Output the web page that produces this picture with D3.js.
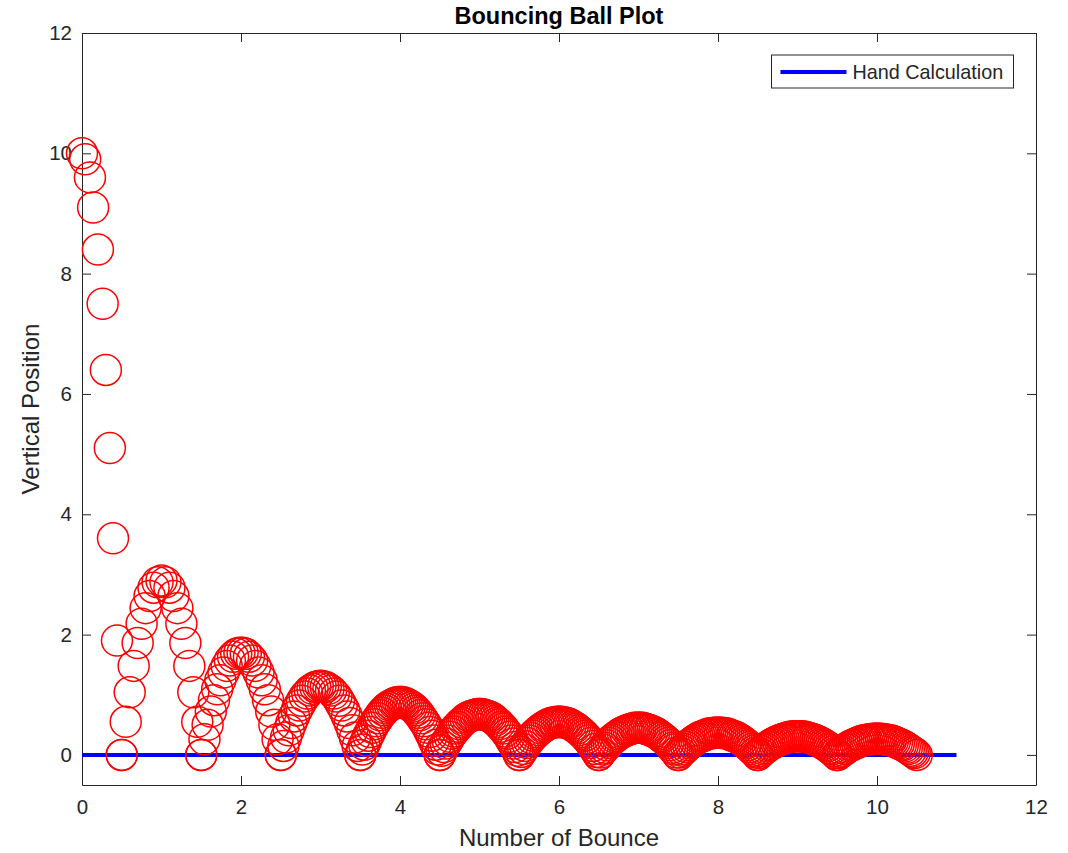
<!DOCTYPE html>
<html>
<head>
  <meta charset="utf-8">
  <title>Bouncing Ball Plot</title>
  <script src="https://d3js.org/d3.v7.min.js"></script>
  <style>
    body { margin: 0; background: #fff; }
    text { font-family: "Liberation Sans", Arial, sans-serif; }
  </style>
</head>
<body>
<div id="chart"></div>
<script type="text/javascript">
  // valores
  const xTicks = [0, 2, 4, 6, 8, 10, 12];
  const yTicks = [0, 2, 4, 6, 8, 10, 12];

  // primeira queda (de 10 ate o chao)
  const dropX = [0, 0.04, 0.1, 0.14, 0.2, 0.26, 0.3, 0.35, 0.39, 0.44, 0.5];
  const dropY = [10, 9.9, 9.6, 9.1, 8.4, 7.5, 6.4, 5.1, 3.6, 1.9, 0];

  // cada quique vai de n-0.5 ate n+0.5
  const bounceStart = [0.5, 1.5, 2.5, 3.5, 4.5, 5.5, 6.5, 7.5, 8.5, 9.5];
  const bounceEnd   = [1.5, 2.5, 3.5, 4.5, 5.5, 6.5, 7.5, 8.5, 9.5, 10.5];

  const bounce1 = [0, .55, 1.04, 1.48, 1.86, 2.18, 2.44, 2.64, 2.78, 2.87, 2.9,
                   2.87, 2.78, 2.64, 2.44, 2.18, 1.86, 1.48, 1.04, .55, 0];
  const bounce2 = [0, .26, .50, .72, .91, 1.09, 1.24, 1.37, 1.48, 1.57, 1.63, 1.68, 1.70,
                   1.70, 1.68, 1.63, 1.57, 1.48, 1.37, 1.24, 1.09, .91, .72, .50, .26, 0];
  const bounce3 = [0, .15, .29, .41, .53, .64, .74, .82, .90, .97, 1.02, 1.07, 1.10, 1.13, 1.14, 1.15,
                   1.14, 1.13, 1.10, 1.07, 1.02, .97, .90, .82, .74, .64, .53, .41, .29, .15, 0];
  const bounce4 = [0, .09, .17, .24, .32, .38, .45, .51, .56, .61, .66, .70, .74, .77, .80, .82, .84, .86, .87, .88, .88,
                   .88, .87, .86, .84, .82, .80, .77, .74, .70, .66, .61, .56, .51, .45, .38, .32, .24, .17, .09, 0];
  const bounce5 = [0, .07, .13, .19, .24, .30, .35, .39, .44, .47, .51, .54, .57, .60, .62, .64, .65, .66, .67, .68, .68,
                   .68, .67, .66, .65, .64, .62, .60, .57, .54, .51, .47, .44, .39, .35, .30, .24, .19, .13, .07, 0];
  const bounce6 = [0, .05, .10, .15, .20, .24, .28, .32, .35, .38, .41, .44, .46, .48, .50, .52, .53, .54, .54, .55, .55,
                   .55, .54, .54, .53, .52, .50, .48, .46, .44, .41, .38, .35, .32, .28, .24, .20, .15, .10, .05, 0];
  const bounce7 = [0, .04, .09, .12, .16, .20, .23, .26, .29, .31, .34, .36, .38, .39, .41, .42, .43, .44, .45, .45, .45,
                   .45, .45, .44, .43, .42, .41, .39, .38, .36, .34, .31, .29, .26, .23, .20, .16, .12, .09, .04, 0];
  const bounce8 = [0, .04, .07, .10, .13, .16, .19, .21, .24, .26, .28, .30, .31, .32, .34, .35, .36, .36, .37, .37, .37,
                   .37, .37, .36, .36, .35, .34, .32, .31, .30, .28, .26, .24, .21, .19, .16, .13, .10, .07, .04, 0];
  const bounce9 = [0, .03, .06, .09, .11, .14, .16, .18, .20, .22, .23, .25, .26, .27, .28, .29, .30, .30, .31, .31, .31,
                   .31, .31, .30, .30, .29, .28, .27, .26, .25, .23, .22, .20, .18, .16, .14, .11, .09, .06, .03, 0];
  const bounce10 = [0, .03, .05, .07, .10, .12, .14, .16, .17, .19, .20, .22, .23, .24, .25, .25, .26, .26, .27, .27, .27,
                    .27, .27, .26, .26, .25, .25, .24, .23, .22, .20, .19, .17, .16, .14, .12, .10, .07, .05, .03, 0];
  const bounces = [bounce1, bounce2, bounce3, bounce4, bounce5, bounce6, bounce7, bounce8, bounce9, bounce10];

  // linha do calculo a mao
  const handX = [0, 11];
  const handY = [0, 0];

  // area do grafico
  let margin = {top: 33, right: 32, bottom: 68, left: 82};
  let w = 1068 - margin.left - margin.right;
  let h = 853 - margin.top - margin.bottom;

  let svg = d3.select('#chart')
      .append('svg')
        .attr('width', 1068)
        .attr('height', 853)
      .append('g')
        .attr('transform', `translate(${margin.left},${margin.top})`);

  let xScale = d3.scaleLinear().domain([0, 12]).range([0, w]);
  let yScale = d3.scaleLinear().domain([-0.5, 12]).range([h, 0]);

  // monta os pontos da bola
  let points = dropX.map((x, i) => [x, dropY[i]]);
  bounces.forEach((ys, b) => {
    let x0 = bounceStart[b], x1 = bounceEnd[b];
    ys.forEach((y, i) => {
      points.push([x0 + (x1 - x0) * i / (ys.length - 1), y]);
    });
  });

  const axisColor = '#262626';

  // eixos estilo matlab (ticks para dentro, caixa fechada)
  let xAxis = d3.axisBottom(xScale).tickValues(xTicks).tickSizeInner(-9).tickSizeOuter(0).tickPadding(14);
  let xAxisTop = d3.axisTop(xScale).tickValues(xTicks).tickSizeInner(-9).tickSizeOuter(0).tickFormat('');
  let yAxis = d3.axisLeft(yScale).tickValues(yTicks).tickSizeInner(-9).tickSizeOuter(0).tickPadding(10);
  let yAxisRight = d3.axisRight(yScale).tickValues(yTicks).tickSizeInner(-9).tickSizeOuter(0).tickFormat('');

  function styleAxis(g) {
    g.selectAll('path, line').attr('stroke', axisColor).attr('stroke-width', 1);
    g.selectAll('text').attr('fill', axisColor).attr('font-size', '20.5px')
      .attr('font-family', '"Liberation Sans", Arial, sans-serif');
  }

  svg.append('g').attr('transform', `translate(0,${h})`).call(xAxis).call(styleAxis);
  svg.append('g').call(xAxisTop).call(styleAxis);
  svg.append('g').call(yAxis).call(styleAxis);
  svg.append('g').attr('transform', `translate(${w},0)`).call(yAxisRight).call(styleAxis);

  // linha azul
  let line = d3.line().x((d, i) => xScale(handX[i])).y((d, i) => yScale(handY[i]));
  svg.append('path')
     .datum(handX)
     .attr('d', line)
     .attr('fill', 'none')
     .attr('stroke', '#0000ff')
     .attr('stroke-width', 4);

  // circulos
  svg.append('g')
     .selectAll('circle')
     .data(points)
     .enter()
     .append('circle')
     .attr('cx', ([x, y]) => xScale(x))
     .attr('cy', ([x, y]) => yScale(y))
     .attr('r', 15.5)
     .attr('fill', 'none')
     .attr('stroke', '#ff0000')
     .attr('stroke-width', 1.5);

  // titulo
  svg.append('text')
     .attr('x', w / 2)
     .attr('y', -9)
     .attr('text-anchor', 'middle')
     .attr('font-size', '23.5px')
     .attr('font-weight', 'bold')
     .attr('fill', '#000')
     .text('Bouncing Ball Plot');

  // labels dos eixos
  svg.append('text')
     .attr('x', w / 2)
     .attr('y', h + 61)
     .attr('text-anchor', 'middle')
     .attr('font-size', '24px')
     .attr('fill', axisColor)
     .text('Number of Bounce');

  svg.append('text')
     .attr('transform', 'rotate(-90)')
     .attr('x', -h / 2)
     .attr('y', -43)
     .attr('text-anchor', 'middle')
     .attr('font-size', '24px')
     .attr('fill', axisColor)
     .text('Vertical Position');

  // legenda
  let legend = svg.append('g').attr('transform', `translate(${771.5 - margin.left},${55 - margin.top})`);
  legend.append('rect')
     .attr('width', 242)
     .attr('height', 33)
     .attr('fill', '#fff')
     .attr('stroke', axisColor)
     .attr('stroke-width', 1);
  legend.append('line')
     .attr('x1', 9).attr('x2', 75)
     .attr('y1', 17).attr('y2', 17)
     .attr('stroke', '#0000ff')
     .attr('stroke-width', 4);
  legend.append('text')
     .attr('x', 81)
     .attr('y', 24)
     .attr('font-size', '19.8px')
     .attr('fill', axisColor)
     .text('Hand Calculation');
</script>
</body>
</html>
